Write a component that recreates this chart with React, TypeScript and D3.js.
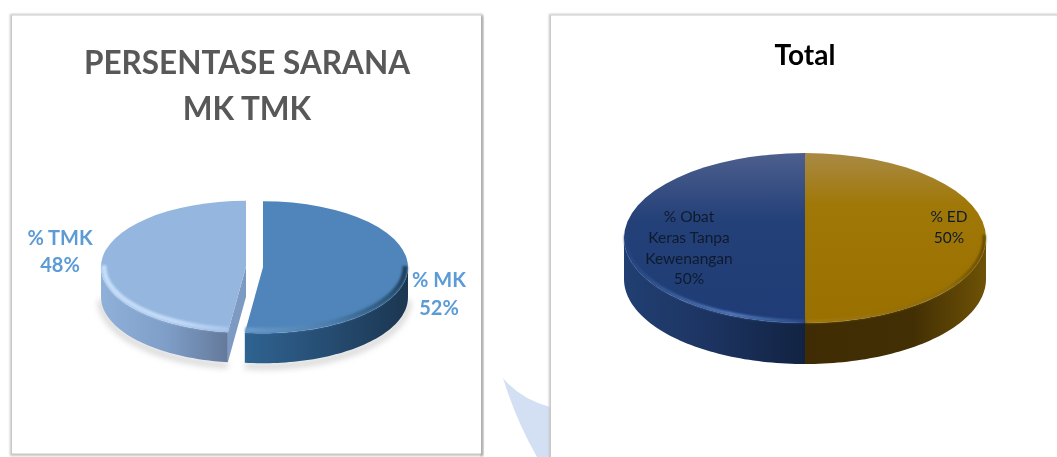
import * as d3 from "d3";

const mkLabels = ["% MK", "% TMK"];
const mkValues = [52, 48];
const totalLabels = ["% ED", "% Obat Tanpa Kewenangan"];
const totalValues = [50, 50];

const FONT = "Lato, 'Open Sans', sans-serif";

type SliceStyle = {
  id: string;
  topStops: [string, string][];
  sideStops: [string, string][];
  rimStops: [string, string][];
  face: string;
};

function Pie3D({ values, cx, cy, rx, ry, depth, explode = 0, styles, rimWidth = 4, shadow = false }: any) {
  const slices = d3.pie<number>().sort(null)(values);
  const arc = d3.arc<d3.PieArcDatum<number>>().innerRadius(0).outerRadius(rx);
  const px = (a: number) => rx * Math.sin(a);
  const py = (a: number) => -ry * Math.cos(a);

  // side wall only exists on the front half of the ellipse
  const front = (s: any) => {
    const a0 = Math.max(s.startAngle, Math.PI / 2);
    const a1 = Math.min(s.endAngle, (3 * Math.PI) / 2);
    return a1 > a0 ? d3.range(0, 61).map((i) => a0 + ((a1 - a0) * i) / 60) : [];
  };
  const wall = d3
    .area<number>()
    .x((a) => px(a))
    .y0((a) => py(a))
    .y1((a) => py(a) + depth);
  // bevel highlight sits just inside the edge of the top face
  const inset = 1 - (rimWidth * 0.6) / ry;
  const rim = d3
    .line<number>()
    .x((a) => px(a) * (1 - (rimWidth * 0.6) / rx))
    .y((a) => py(a) * inset);
  const rimAngles = (s: any) =>
    d3
      .range(0, 81)
      .map((i) => s.startAngle + ((s.endAngle - s.startAngle) * i) / 80)
      .filter((a) => Math.cos(a) < 0.05);
  const floorLine = d3
    .line<number>()
    .x((a) => px(a))
    .y((a) => py(a) + depth + 3);

  const offset = (s: any) => {
    const mid = (s.startAngle + s.endAngle) / 2;
    return [cx + explode * Math.sin(mid), cy - (explode * Math.cos(mid) * ry) / rx];
  };
  const facePath = (a: number) =>
    d3.line()([
      [0, 0],
      [px(a), py(a)],
      [px(a), py(a) + depth],
      [0, depth],
    ]) + "Z";

  const stops = (list: [string, string][]) =>
    list.map(([o, c]) => <stop key={o} offset={o} stopColor={c} />);

  return (
    <g>
      <defs>
        {slices.map((s, i) => (
          <g key={i}>
            <linearGradient id={styles[i].id + "-top"} x1="0" y1="0" x2="0" y2="1">
              {stops(styles[i].topStops)}
            </linearGradient>
            <linearGradient id={styles[i].id + "-side"} x1="0" y1="0" x2="1" y2="0">
              {stops(styles[i].sideStops)}
            </linearGradient>
            <linearGradient id={styles[i].id + "-rim"} x1="0" y1="0" x2="1" y2="0">
              {stops(styles[i].rimStops)}
            </linearGradient>
          </g>
        ))}
      </defs>
      {shadow &&
        slices.map((s, i) => {
          const [ox, oy] = offset(s);
          return (
            <path
              key={i}
              transform={`translate(${ox},${oy})`}
              d={floorLine(front(s))!}
              fill="none"
              stroke="#d4d4d4"
              strokeWidth={6}
              filter="url(#floor)"
            />
          );
        })}
      {slices.map((s, i) => {
        const [ox, oy] = offset(s);
        const angles = front(s);
        return (
          <g key={i} transform={`translate(${ox},${oy})`}>
            {angles.length > 0 && <path d={wall(angles)!} fill={`url(#${styles[i].id}-side)`} />}
            {Math.sin(s.startAngle) < -1e-6 && <path d={facePath(s.startAngle)} fill={styles[i].face} />}
            {Math.sin(s.endAngle) > 1e-6 && <path d={facePath(s.endAngle)} fill={styles[i].face} />}
            <path
              transform={`scale(1,${ry / rx})`}
              d={arc(s)!}
              fill={`url(#${styles[i].id}-top)`}
            />
            <path
              d={rim(rimAngles(s))!}
              fill="none"
              stroke={`url(#${styles[i].id}-rim)`}
              strokeWidth={rimWidth}
              filter="url(#soft)"
            />
          </g>
        );
      })}
    </g>
  );
}

const mkStyles: SliceStyle[] = [
  {
    id: "mk",
    topStops: [["0", "#4f85ba"], ["1", "#4f85ba"]],
    sideStops: [["0", "#2f6391"], ["0.5", "#264d73"], ["1", "#1b3650"]],
    rimStops: [["0", "#6a9bcb"], ["0.55", "#4a7cab"], ["0.9", "#2c5578"], ["1", "#1f3f5c"]],
    face: "#2f5f8c",
  },
  {
    id: "tmk",
    topStops: [["0", "#95b6de"], ["1", "#95b6de"]],
    sideStops: [["0", "#8fb0d8"], ["0.5", "#7f9fc9"], ["1", "#64799b"]],
    rimStops: [["0", "#c6def9"], ["0.6", "#c0d9f7"], ["1", "#a9c6ec"]],
    face: "#7d9ac2",
  },
];

const totalStyles: SliceStyle[] = [
  {
    id: "ed",
    topStops: [["0", "#a98a45"], ["0.3", "#a07808"], ["1", "#9a7000"]],
    sideStops: [["0", "#3f2c04"], ["0.6", "#432f04"], ["1", "#6e5206"]],
    rimStops: [["0", "#a07a10"], ["0.8", "#8c6a08"], ["1", "#5f4705"]],
    face: "#3f2c04",
  },
  {
    id: "obat",
    topStops: [["0", "#4d5f8e"], ["0.4", "#234078"], ["1", "#1f3c76"]],
    sideStops: [["0", "#213f72"], ["0.5", "#1c3360"], ["1", "#122342"]],
    rimStops: [["0", "#24447f"], ["0.6", "#5c84c8"], ["1", "#2a4a88"]],
    face: "#122342",
  },
];

function Card({ x, y, width, height }: any) {
  return (
    <g>
      <rect x={x} y={y} width={width} height={height} fill="#c4c4c4" filter="url(#cardShadow)" />
      <rect x={x + width - 2.5} y={y + 2} width={2.5} height={height - 2} fill="#a6a6a6" filter="url(#cardShadow)" />
      <rect x={x + 2} y={y + 1.5} width={width - 4} height={height - 4} fill="#ffffff" />
    </g>
  );
}

export default function App() {
  const titleStyle = { fontFamily: FONT, textAnchor: "middle" } as const;
  return (
    <svg
      width={1057}
      height={457}
      style={{ position: "absolute", left: 0, top: 0, display: "block" }}
    >
      <defs>
        <filter id="soft" x="-10%" y="-20%" width="120%" height="140%">
          <feGaussianBlur stdDeviation="1.1" />
        </filter>
        <filter id="cardShadow" x="-5%" y="-2%" width="110%" height="104%">
          <feGaussianBlur stdDeviation="1.1" />
        </filter>
        <filter id="floor" x="-10%" y="-30%" width="120%" height="160%">
          <feGaussianBlur stdDeviation="3" />
        </filter>
        <filter id="textBlur">
          <feGaussianBlur stdDeviation="0.35" />
        </filter>
      </defs>
      <rect width={1057} height={457} fill="#ffffff" />

      <path d="M503,378 Q520,399 550,407 L550,457 L537,457 Q516,420 503,378Z" fill="#d3e0f3" />

      <Card x={10} y={14} width={473} height={442} />
      <Card x={549} y={14} width={530} height={460} />

      {/* left chart */}
      <Pie3D
        values={mkValues}
        cx={254.5}
        cy={267}
        rx={145}
        ry={66}
        depth={30}
        explode={8.5}
        styles={mkStyles}
        rimWidth={5}
        shadow
      />
      <g filter="url(#textBlur)">
        <g {...titleStyle} fill="#595959" fontWeight={700} fontSize={31.5}>
          <text x={247} y={74}>PERSENTASE SARANA</text>
          <text x={247} y={120}>MK TMK</text>
        </g>
        <g {...titleStyle} fill="#5b9bd5" fontWeight={700} fontSize={20}>
          <text x={60} y={245}>{mkLabels[1]}</text>
          <text x={60} y={272}>{mkValues[1]}%</text>
          <text x={439} y={287}>{mkLabels[0]}</text>
          <text x={439} y={315}>{mkValues[0]}%</text>
        </g>
      </g>

      {/* right chart */}
      <Pie3D
        values={totalValues}
        cx={805}
        cy={238}
        rx={181}
        ry={85}
        depth={41}
        styles={totalStyles}
        rimWidth={3}
      />
      <g filter="url(#textBlur)">
        <text x={805} y={65} {...titleStyle} fill="#000000" fontWeight={700} fontSize={28}>
          Total
        </text>
        <g {...titleStyle} fill="#111a2c" fontSize={15.5}>
          <text x={689} y={222}>% Obat</text>
          <text x={689} y={243}>Keras Tanpa</text>
          <text x={689} y={264}>Kewenangan</text>
          <text x={689} y={284}>{totalValues[1]}%</text>
          <text x={949} y={222}>{totalLabels[0]}</text>
          <text x={949} y={243}>{totalValues[0]}%</text>
        </g>
      </g>
    </svg>
  );
}
